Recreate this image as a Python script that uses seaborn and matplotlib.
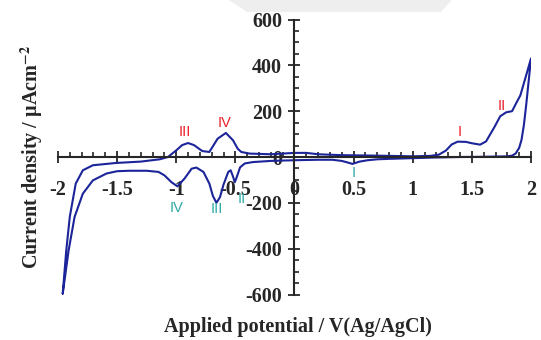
import matplotlib
matplotlib.use("Agg")
import matplotlib.pyplot as plt
from matplotlib.patches import Polygon
from matplotlib.ticker import MultipleLocator
import pandas as pd
import seaborn as sns

# forward (anodic) scan, -2 V -> 2 V
fwd_v = [-1.96, -1.93, -1.90, -1.85, -1.79, -1.705, -1.51, -1.30, -1.14, -1.07, -1.00, -0.95,
         -0.90, -0.85, -0.78, -0.72, -0.65, -0.58, -0.52, -0.48, -0.45, -0.38, -0.20, 0.00,
         0.10, 0.20, 0.40, 0.70, 1.00, 1.15, 1.22, 1.28, 1.33, 1.38, 1.45, 1.50, 1.57, 1.62,
         1.69, 1.74, 1.79, 1.84, 1.88, 1.91, 1.95, 2.00]
fwd_i = [-596, -407, -260, -116, -58, -36, -26, -20, -10, 0, 29, 52,
         61, 52, 26, 22, 80, 105, 73, 36, 22, 15, 12, 18,
         18, 12, 8, 6, 3, 5, 10, 28, 55, 67, 66, 60, 54, 68,
         130, 178, 195, 200, 240, 269, 340, 430]

# reverse (cathodic) scan, 2 V -> -2 V
rev_v = [2.00, 1.98, 1.96, 1.94, 1.92, 1.90, 1.87, 1.84, 1.80, 1.60, 1.40, 1.20, 1.00, 0.80,
         0.70, 0.62, 0.55, 0.49, 0.45, 0.40, 0.32, 0.20, 0.00, -0.20, -0.35, -0.42, -0.46,
         -0.49, -0.505, -0.52, -0.54, -0.56, -0.60, -0.63, -0.66, -0.69, -0.72, -0.77, -0.83,
         -0.87, -0.93, -0.99, -1.04, -1.10, -1.15, -1.25, -1.40, -1.50, -1.59, -1.705, -1.79,
         -1.86, -1.91, -1.96]
rev_i = [430, 330, 230, 140, 75, 40, 15, 6, 3, 1, 0, -2, -5, -8,
         -10, -14, -20, -30, -24, -17, -12, -12, -14, -17, -22, -28, -45,
         -90, -110, -85, -58, -65, -120, -175, -200, -170, -116, -65, -46,
         -51, -94, -128, -110, -80, -65, -60, -60, -62, -72, -102, -160,
         -262, -407, -596]

anodic_labels = ["III", "IV", "I", "II"]
anodic_pos = [(-0.93, 109), (-0.59, 148), (1.40, 110), (1.75, 222)]
cathodic_labels = ["IV", "III", "II", "I"]
cathodic_pos = [(-1.00, -222), (-0.66, -225), (-0.45, -185), (0.50, -68)]

df = pd.DataFrame({"V": fwd_v + rev_v, "I": fwd_i + rev_i})

sns.set_style("ticks")
plt.rcParams["font.family"] = ["Liberation Serif", "DejaVu Serif"]
plt.rcParams["font.weight"] = "bold"
plt.rcParams["mathtext.fontset"] = "stix"
plt.rcParams["axes.unicode_minus"] = False

fig = plt.figure(figsize=(5.41, 3.40), dpi=100)
ax = fig.add_axes([0.1072, 0.1338, 0.8743, 0.8088])

sns.lineplot(data=df, x="V", y="I", sort=False, estimator=None, color="#1c2499", lw=1.5, ax=ax)

ax.set_xlim(-2, 2)
ax.set_ylim(-600, 600)
for s in ["top", "right"]:
    ax.spines[s].set_visible(False)
ax.spines["left"].set_position(("data", 0))
ax.spines["bottom"].set_position(("data", 0))
for s in ["left", "bottom"]:
    ax.spines[s].set_linewidth(1.5)

ax.xaxis.set_major_locator(MultipleLocator(0.5))
ax.xaxis.set_minor_locator(MultipleLocator(0.1))
ax.yaxis.set_major_locator(MultipleLocator(200))
ax.yaxis.set_minor_locator(MultipleLocator(50))
ax.set_xticks([-2, -1.5, -1, -0.5, 0, 0.5, 1, 1.5, 2])
ax.set_xticklabels(["-2", "-1.5", "-1", "-0.5", "0", "0.5", "1", "1.5", "2"])
ax.tick_params(axis="x", which="major", direction="inout", length=8.5, width=1.3, pad=12, labelsize=14.5)
ax.tick_params(axis="x", which="minor", direction="in", length=3.5, width=1.2)
ax.tick_params(axis="y", which="major", direction="inout", length=8, width=1.3, pad=5, labelsize=14.5)
ax.tick_params(axis="y", which="minor", direction="in", length=3.5, width=1.2)
for lab in ax.get_xticklabels() + ax.get_yticklabels():
    lab.set_fontweight("bold")

ax.set_xlabel("Applied potential / V(Ag/AgCl)", fontsize=14.5, fontweight="bold")
ax.set_ylabel("Current density / µAcm$^{\\mathbf{-2}}$", fontsize=14.5, fontweight="bold")
ax.xaxis.set_label_coords(0.508, -0.08)
ax.yaxis.set_label_coords(-0.028, 0.5)

for lab, (x, y) in zip(anodic_labels, anodic_pos):
    ax.text(x, y, lab, color="#e8202a", fontsize=10.5, ha="center", va="center",
            family=["Liberation Sans"], fontweight="normal")
for lab, (x, y) in zip(cathodic_labels, cathodic_pos):
    ax.text(x, y, lab, color="#2fa9a6", fontsize=10.5, ha="center", va="center",
            family=["Liberation Sans"], fontweight="normal")

# faint grey tab at the top edge
fig.patches.append(Polygon([[0.423, 1.0], [0.835, 1.0], [0.815, 0.965], [0.4566, 0.965]],
                           closed=True, transform=fig.transFigure, facecolor="#eeeeee",
                           edgecolor="none", zorder=0))

fig.savefig("out.png", dpi=100)
